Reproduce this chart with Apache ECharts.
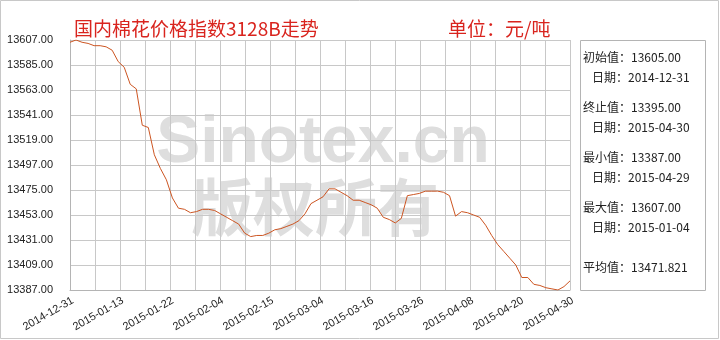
<!DOCTYPE html>
<html>
<head>
<meta charset="utf-8">
<script src="https://cdn.jsdelivr.net/npm/echarts@6/dist/echarts.min.js"></script>
<style>
html,body{margin:0;padding:0;background:#fff;}
#chart{width:720px;height:340px;}
</style>
</head>
<body>
<div id="chart"></div>
<script>
// ---- data ----
const xTickLabels = ['2014-12-31','2015-01-13','2015-01-22','2015-02-04','2015-02-15','2015-03-04','2015-03-16','2015-03-26','2015-04-08','2015-04-20','2015-04-30'];
const prices = [
  13605,13607,13605,13604,13602,13602,13601,13598,13588,13583,
  13568,13564,13532,13530,13506,13494,13484,13468,13459,13458,
  13455,13456,13458,13458,13457,13454,13451,13448,13445,13437,
  13434,13435,13435,13437,13440,13441,13443,13445,13448,13454,
  13463,13466,13469,13476,13476,13473,13470,13466,13466,13464,
  13462,13459,13451,13449,13446,13450,13470,13471,13472,13474,
  13474,13474,13473,13470,13452,13456,13455,13453,13451,13444,
  13435,13427,13421,13415,13409,13398,13398,13392,13391,13389,
  13388,13387,13390,13395
];
const yMin = 13387;
const yMax = 13607;
const yStep = 22;
const titleText = '国内棉花价格指数3128B走势';
const unitText = '单位：元/吨';
const statLines = [
  '初始值：13605.00', '日期：2014-12-31',
  '终止值：13395.00', '日期：2015-04-30',
  '最小值：13387.00', '日期：2015-04-29',
  '最大值：13607.00', '日期：2015-01-04',
  '平均值：13471.821'
];
const watermark = ['Sinotex.cn', '版权所有'];

// ---- chart ----
const chart = echarts.init(document.getElementById('chart'), null, {renderer:'canvas'});
const xMax = prices.length - 1;
const xStep = xMax / 20;
const cjk = '"Noto Sans CJK SC", sans-serif';

const statY = [59, 79, 109, 129, 159, 179, 209, 229, 269];
const statX = [583, 592, 583, 592, 583, 592, 583, 592, 583];
const statGraphics = statLines.map((t, i) => ({
  type: 'text', left: statX[i], top: statY[i] - 8,
  style: {text: t, fill: '#222', font: '12px ' + cjk}
}));

chart.setOption({
  backgroundColor: '#fff',
  animation: false,
  grid: {left: 70, right: 150, top: 40, bottom: 50, containLabel: false},
  xAxis: {
    type: 'value', min: 0, max: xMax, interval: xStep,
    axisLine: {show: true, lineStyle: {color: '#b4b4b4', width: 1}},
    axisTick: {show: false},
    splitLine: {show: true, lineStyle: {color: '#c8c8c8', width: 1}},
    axisLabel: {
      rotate: 30, fontSize: 11, color: '#222', margin: 5,
      verticalAlign: 'top',
      fontFamily: '"Liberation Sans", Arial, sans-serif',
      showMinLabel: true, showMaxLabel: true,
      formatter: function (v) {
        const k = Math.round(v / xStep);
        if (k % 2 !== 0) return '';
        return xTickLabels[k / 2] || '';
      }
    }
  },
  yAxis: {
    type: 'value', min: 0, max: yMax - yMin, interval: yStep,
    axisLine: {show: true, lineStyle: {color: '#b4b4b4', width: 1}},
    axisTick: {show: false},
    splitLine: {show: true, lineStyle: {color: '#c8c8c8', width: 1}},
    axisLabel: {
      fontSize: 11, color: '#222', margin: 17,
      fontFamily: '"Liberation Sans", Arial, sans-serif',
      formatter: function (v) { return (v + yMin).toFixed(2); }
    }
  },
  series: [{
    type: 'line',
    data: prices.map((v, i) => [i, v - yMin]),
    showSymbol: false,
    lineStyle: {color: '#cc5522', width: 1},
    itemStyle: {color: '#cc5522'},
    z: 5
  }],
  graphic: [
    {type: 'rect', z: -20, silent: true, shape: {x: 0.5, y: 0.5, width: 718, height: 338},
     style: {fill: 'none', stroke: '#c8c8c8', lineWidth: 1}},
    {type: 'text', z: -10, silent: true, x: 323, y: 144,
     style: {text: watermark[0], fill: '#dedede', font: 'bold 66px "Liberation Sans", Arial, sans-serif',
             textAlign: 'center', textVerticalAlign: 'middle'}},
    {type: 'text', z: -10, silent: true, x: 315, y: 207,
     style: {text: watermark[1], fill: '#dedede', font: 'bold 62px ' + cjk,
             textAlign: 'center', textVerticalAlign: 'middle'}},
    {type: 'text', x: 74, y: 29,
     style: {text: titleText, fill: '#d9241e', font: '19px ' + cjk, textVerticalAlign: 'middle'}},
    {type: 'text', x: 448, y: 29,
     style: {text: unitText, fill: '#d9241e', font: '19px ' + cjk, textVerticalAlign: 'middle'}},
    {type: 'rect', shape: {x: 580.5, y: 40.5, width: 125, height: 250},
     style: {fill: '#fff', stroke: '#b4b4b4', lineWidth: 1}}
  ].concat(statGraphics)
});
</script>
</body>
</html>
